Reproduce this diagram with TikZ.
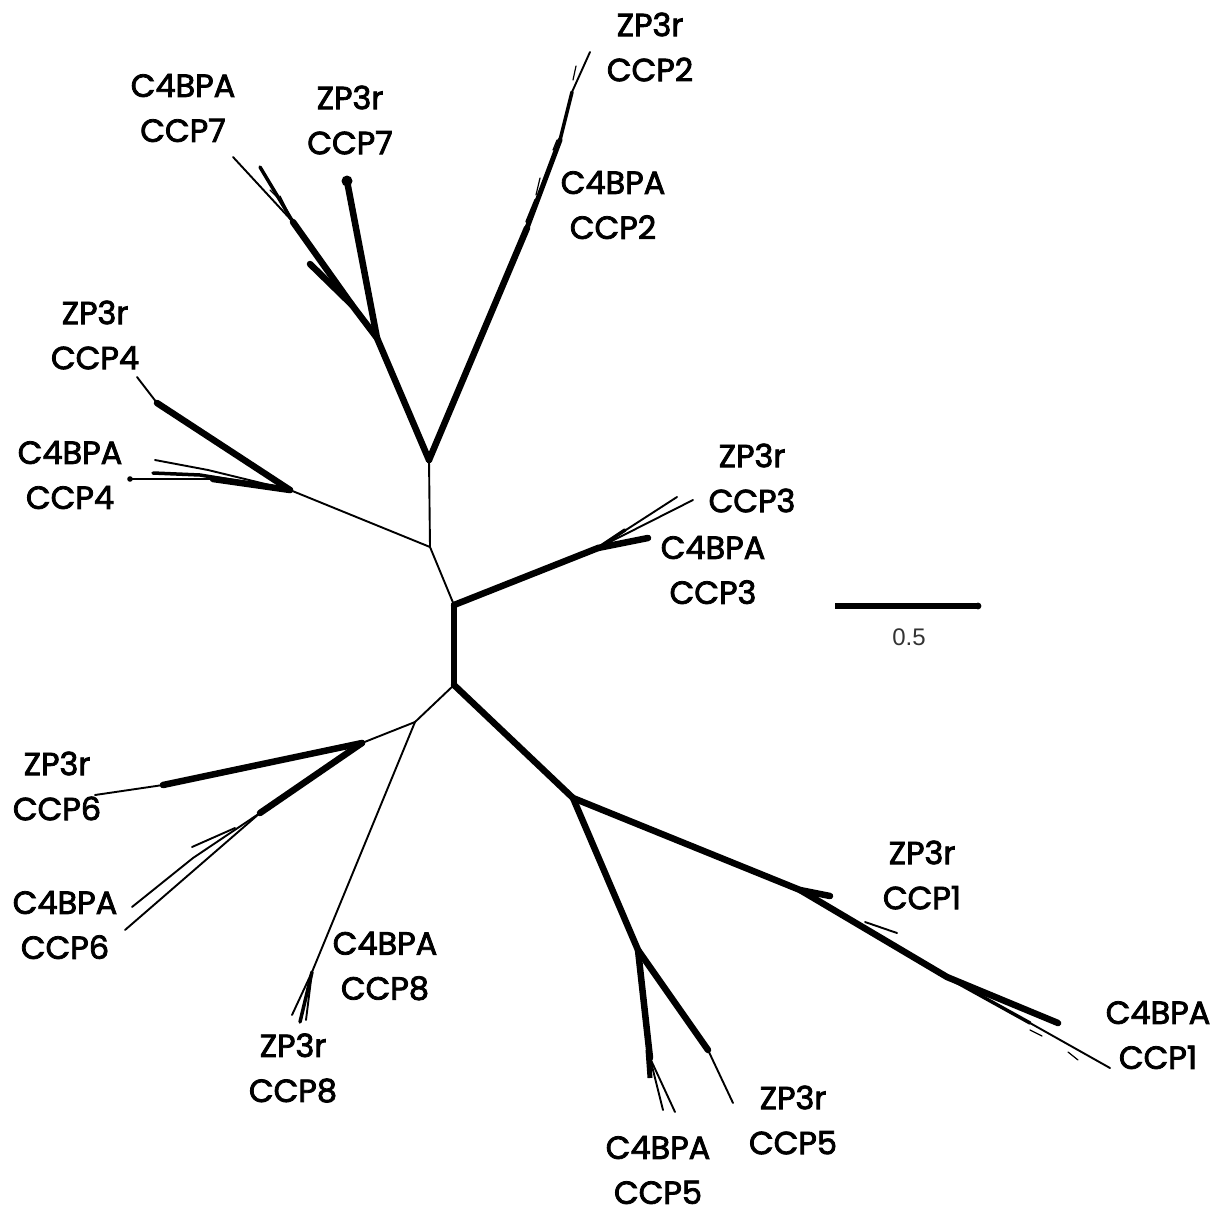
\documentclass[tikz,border=0pt]{standalone}
\usepackage{fontspec}
\setmainfont{Poppins}
\newfontfamily\lblfont[FakeBold=2.5]{Poppins}
\newfontfamily\scalefont{Liberation Sans}
\begin{document}
\begin{tikzpicture}[x=1pt,y=-1pt,
  thk/.style={line width=6.5pt,line cap=round,line join=round},
  med/.style={line width=3.5pt,line cap=round,line join=round},
  thn/.style={line width=1.9pt,line cap=round,line join=round},
  twg/.style={line width=1.2pt,line cap=round},
  lbl/.style={font=\lblfont\fontsize{32}{45}\selectfont,align=center,inner sep=0pt}]
\useasboundingbox (0,0) rectangle (1217,1215);
% central spine
\coordinate (n1) at (429,460);
\coordinate (n2) at (430,547);
\coordinate (n3) at (454,605);
\coordinate (n4) at (454,685);
\coordinate (n5) at (415,722);
\draw[thn] (n1) -- (n2) -- (n3);
\draw[thk] (n3) -- (n4);
\draw[thn] (n4) -- (n5);
% CCP7
\coordinate (n7) at (377,338);
\coordinate (z7) at (347,181);
\coordinate (c7a) at (352,305);
\coordinate (c7s) at (310,264);
\coordinate (c7b) at (293,222);
\coordinate (t7a) at (233,157);
\coordinate (t7b) at (260,167);
\draw[thk] (n1) -- (n7);
\draw[thk] (n7) -- (z7);
\fill (z7) circle (5.5);
\draw[thk] (n7) -- (c7a) -- (c7b);
\draw[thk] (c7a) -- (c7s);
\draw[thn] (c7b) -- (t7a);
\draw[med] (c7b) -- (t7b);
\draw[twg] (288,212) -- (280,196);
\draw[twg] (283,203) -- (270,190);
% CCP2
\coordinate (c2a) at (527,228);
\coordinate (c2b) at (560,140);
\coordinate (c2c) at (572,92);
\coordinate (t2) at (590,52);
\draw[thk] (n1) -- (c2a);
\draw[line width=5pt,line cap=round] (c2a) -- (c2b);
\draw[med] (c2b) -- (c2c);
\draw[thn] (c2c) -- (t2);
\draw[med] (527,222) -- (536,200);
\draw[twg] (536,195) -- (540,178);
\draw[twg] (553,150) -- (557,140);
\draw[twg] (573,80) -- (576,66);
% CCP4
\coordinate (c4) at (290,490);
\coordinate (c4a) at (157,403);
\coordinate (t4a) at (137,377);
\coordinate (c4b) at (213,479);
\coordinate (t4b) at (130,479);
\draw[thn] (n2) -- (c4);
\draw[thk] (c4) -- (c4a);
\draw[thn] (c4a) -- (t4a);
\draw[thk] (c4) -- (c4b);
\draw[thn] (c4b) -- (t4b);
\fill (t4b) circle (2.8);
\draw[thn] (c4) -- (208,470) -- (155,460);
\draw[med] (c4) -- (200,475) -- (153,473);
% CCP3
\coordinate (c3) at (598,548);
\coordinate (t3a) at (648,538);
\coordinate (t3b) at (693,500);
\coordinate (t3c) at (677,497);
\draw[thk] (n3) -- (c3);
\draw[thk] (c3) -- (t3a);
\draw[thn] (c3) -- (t3b);
\draw[thn] (c3) -- (t3c);
\draw[med] (c3) -- (625,530);
% CCP1
\coordinate (n6) at (573,798);
\coordinate (c1a) at (800,890);
\coordinate (t1a) at (830,896);
\coordinate (c1b) at (947,977);
\coordinate (t1b) at (1058,1023);
\coordinate (c1c) at (1030,1023);
\coordinate (t1c) at (1110,1068);
\draw[thk] (n4) -- (n6);
\draw[thk] (n6) -- (c1a);
\draw[thk] (c1a) -- (t1a);
\draw[thk] (c1a) -- (c1b);
\draw[thn] (865,922) -- (897,933);
\draw[thk] (c1b) -- (t1b);
\draw[med] (c1b) -- (c1c);
\draw[thn] (c1c) -- (t1c);
\draw[twg] (1030,1030) -- (1042,1036);
\draw[twg] (1068,1052) -- (1078,1060);
% CCP5
\coordinate (c5) at (638,950);
\coordinate (c5a) at (650,1058);
\coordinate (t5a) at (663,1110);
\coordinate (t5b) at (675,1112);
\coordinate (c5b) at (708,1050);
\coordinate (t5c) at (733,1103);
\draw[thk] (n6) -- (c5);
\draw[thk] (c5) -- (c5a);
\draw[line width=5pt] (648,1050) -- (650,1078);
\draw[thn] (c5a) -- (t5a);
\draw[thn] (c5a) -- (t5b);
\draw[thk] (c5) -- (c5b);
\draw[thn] (c5b) -- (t5c);
% CCP6
\coordinate (n8) at (362,743);
\coordinate (c6a) at (163,785);
\coordinate (t6a) at (95,795);
\coordinate (c6b) at (260,813);
\coordinate (t6b) at (132,907);
\coordinate (t6c) at (125,930);
\draw[thn] (n5) -- (n8);
\draw[thk] (n8) -- (c6a);
\draw[thn] (c6a) -- (t6a);
\draw[thk] (n8) -- (c6b);
\draw[thn] (c6b) -- (193,858) -- (t6b);
\draw[thn] (c6b) -- (t6c);
\draw[thn] (235,828) -- (192,847);
% CCP8
\coordinate (c8) at (312,972);
\draw[thn] (n5) -- (c8);
\draw[med] (c8) -- (300,1022);
\draw[thn] (c8) -- (292,1015);
\draw[thn] (c8) -- (306,1020);
% scale bar
\coordinate (s1) at (835,606);
\coordinate (s2) at (978,606);
\draw[line width=5.5pt] (s1) -- (s2);
\fill (s2) circle (3.4);
\node[font=\scalefont\fontsize{24}{28}\selectfont,text=black!80,inner sep=0pt] (sl) at (909,637) {0.5};
% labels
\node[lbl] (l7a) at (183,108) {C4BPA\\CCP7};
\node[lbl] (l7b) at (350,120) {ZP3r\\CCP7};
\node[lbl] (l2a) at (650,47) {ZP3r\\CCP2};
\node[lbl] (l2b) at (613,205) {C4BPA\\CCP2};
\node[lbl] (l4a) at (95,335) {ZP3r\\CCP4};
\node[lbl] (l4b) at (70,475) {C4BPA\\CCP4};
\node[lbl] (l3a) at (752,478) {ZP3r\\CCP3};
\node[lbl] (l3b) at (713,570) {C4BPA\\CCP3};
\node[lbl] (l6a) at (57,786) {ZP3r\\CCP6};
\node[lbl] (l6b) at (65,925) {C4BPA\\CCP6};
\node[lbl] (l8a) at (385,966) {C4BPA\\CCP8};
\node[lbl] (l8b) at (293,1068) {ZP3r\\CCP8};
\node[lbl] (l5a) at (793,1120) {ZP3r\\CCP5};
\node[lbl] (l5b) at (658,1170) {C4BPA\\CCP5};
\node[lbl] (l1a) at (922,875) {ZP3r\\CCP1};
\node[lbl] (l1b) at (1158,1035) {C4BPA\\CCP1};
\end{tikzpicture}
\end{document}
